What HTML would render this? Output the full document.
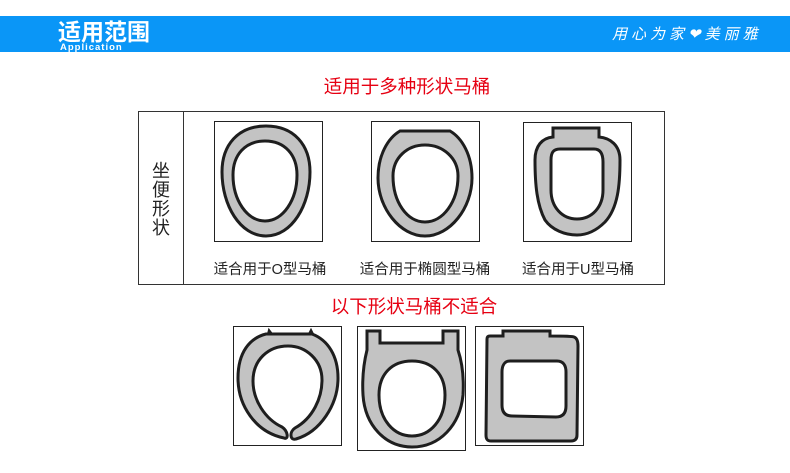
<!DOCTYPE html>
<html><head><meta charset="utf-8"><style>
body{margin:0;width:790px;height:473px;background:#fff;overflow:hidden}
svg{display:block}
text{font-family:"Liberation Sans","Noto Sans CJK SC",sans-serif}
</style></head><body>
<svg width="790" height="473" viewBox="0 0 790 473" xmlns="http://www.w3.org/2000/svg">
<rect x="0" y="16" width="790" height="36" fill="#0a96f7"/>
<text x="58" y="40" font-size="23" font-weight="bold" fill="#fff">适用范围</text>
<text x="60" y="50" font-size="9.5" font-weight="bold" fill="#fff" letter-spacing="1">Application</text>
<text x="612" y="39" font-size="15" fill="#fff" font-style="italic" letter-spacing="4" font-family="'Noto Serif CJK SC',serif">用心为家❤美丽雅</text>

<text x="407" y="93" font-size="18.5" fill="#e60012" text-anchor="middle">适用于多种形状马桶</text>

<rect x="138.5" y="111.5" width="526" height="173" fill="none" stroke="#333" stroke-width="1"/>
<line x1="183.5" y1="111.5" x2="183.5" y2="284.5" stroke="#333"/>
<g font-size="18" fill="#222" text-anchor="middle">
<text x="161" y="177">坐</text><text x="161" y="196">便</text><text x="161" y="215">形</text><text x="161" y="234">状</text>
</g>

<g fill="none" stroke="#222" stroke-width="1">
<rect x="214.5" y="121.5" width="108" height="120"/>
<rect x="371.5" y="121.5" width="108" height="120"/>
<rect x="523.5" y="122.5" width="108" height="119"/>
<rect x="233.5" y="326.5" width="108" height="119"/>
<rect x="357.5" y="326.5" width="108" height="124"/>
<rect x="475.5" y="326.5" width="108" height="119"/>
</g>

<g fill="#c3c3c3" stroke="#1e1e1e" stroke-width="3" fill-rule="evenodd">
<path d="M266,126 C294,126 310,145 310,172 C310,205 292,236 266,236 C240,236 222,205 222,172 C222,145 238,126 266,126 Z
M265,141 C285,141 297,155 297,175 C297,200 283,221 265,221 C247,221 233,200 233,175 C233,155 245,141 265,141 Z"/>
<path d="M400,131 L450,131 C462,138 472,155 472,178 C472,208 450,236 425,236 C400,236 378,208 378,178 C378,155 388,138 400,131 Z
M425,145 C443,145 458,158 458,176 C458,202 443,222 425,222 C407,222 393,202 393,176 C393,158 407,145 425,145 Z"/>
<path d="M553,128 L599,128 L599,137 C610,138 620,145 620,160 C620,185 618,208 605,222 C595,232 585,235 577,235 C565,235 552,230 545,220 C537,205 535,185 535,160 C535,146 542,138 553,137 Z
M560,149 L594,149 C601,149 603,155 603,162 L603,190 C603,207 592,219 577,219 C562,219 551,207 551,190 L551,160 C551,153 553,149 560,149 Z"/>
<path d="M284,438 C255,432 238,405 238,378 C238,352 250,338 266,334 L312,334 C328,340 338,356 338,378 C338,405 320,432 296,439 C290,441 289,432 295,428 C313,418 322,398 322,380 C322,360 306,346 288,346 C268,346 253,360 253,381 C253,400 265,419 282,427 C288,431 289,440 284,438 Z"/>
<path d="M268,334 L269,330 L272,334 M309,334 L311,330 L313,334" fill="none" stroke-width="2"/>
<path d="M367,331 L380,331 L380,343 L443,343 L443,331 L458,331 L458,350 C462,362 464,378 463,395 C460,425 440,447 412,447 C385,447 365,425 363,395 C362,378 364,362 367,350 Z
M412,361 C432,361 445,374 445,395 C445,420 430,436 412,436 C394,436 379,420 379,395 C379,374 392,361 412,361 Z"/>
<path d="M487,339 C487,337 488,336 490,336 L503,336 L503,331 L550,331 L550,336 C562,336 572,336 574,337 C577,338 578,341 578,346 L577,435 C577,439 575,441 571,441 L491,441 C487,441 486,439 486,435 Z
M510,361 L557,361 C563,361 566,365 566,372 L566,406 C566,413 563,417 556,417 L512,416 C505,416 502,412 502,405 L502,372 C502,365 505,361 510,361 Z"/>
</g>

<g font-size="14.5" fill="#222" text-anchor="middle">
<text x="270" y="274">适合用于O型马桶</text>
<text x="425" y="274">适合用于椭圆型马桶</text>
<text x="578" y="274">适合用于U型马桶</text>
</g>

<text x="414" y="313" font-size="18.5" fill="#e60012" text-anchor="middle">以下形状马桶不适合</text>
</svg>
</body></html>
